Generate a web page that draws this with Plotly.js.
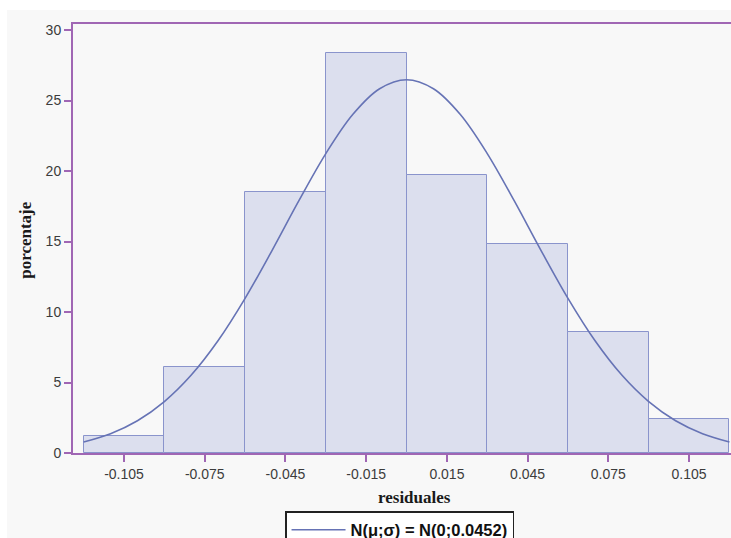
<!DOCTYPE html>
<html>
<head>
<meta charset="utf-8">
<script src="https://cdn.plot.ly/plotly-3.0.1.min.js"></script>
<style>
  html, body { margin: 0; padding: 0; background: #ffffff; overflow: hidden; width: 731px; height: 538px; }
  #chart { position: absolute; left: 7px; top: 10px; width: 748px; height: 528px; }
</style>
</head>
<body>
<div id="chart"></div>
<script>
// Histogram bins (centres) and percentages
const binCenters = [-0.105, -0.075, -0.045, -0.015, 0.015, 0.045, 0.075, 0.105];
const percentages = [1.2, 6.1, 18.5, 28.4, 19.7, 14.8, 8.6, 2.4];

// Fitted normal curve points
const curveX = [-0.12, -0.11, -0.10, -0.09, -0.08, -0.07, -0.06, -0.05, -0.04, -0.03, -0.02, -0.01, 0.00,
                0.01, 0.02, 0.03, 0.04, 0.05, 0.06, 0.07, 0.08, 0.09, 0.10, 0.11, 0.12];
const curveY = [0.78, 1.37, 2.29, 3.65, 5.53, 7.98, 10.97, 14.36, 17.90, 21.24, 24.01, 25.84, 26.48,
                25.84, 24.01, 21.24, 17.90, 14.36, 10.97, 7.98, 5.53, 3.65, 2.29, 1.37, 0.78];

// Axis ticks
const xTickVals = [-0.105, -0.075, -0.045, -0.015, 0.015, 0.045, 0.075, 0.105];
const xTickText = ['-0.105', '-0.075', '-0.045', '-0.015', '0.015', '0.045', '0.075', '0.105'];
const yTickVals = [0, 5, 10, 15, 20, 25, 30];

const legendName = 'N(\u03bc;\u03c3) = N(0;0.0452)';
const xTitle = 'residuales';
const yTitle = 'porcentaje';

const axisColor = '#a066b4';
const tickFont = { family: 'Liberation Sans, Arial, sans-serif', size: 14, color: '#3c3c3c' };
const titleFont = { family: 'Liberation Serif, Times New Roman, serif', size: 17, color: '#1a1a1a', weight: 'bold' };

const traces = [
  {
    type: 'bar',
    x: binCenters,
    y: percentages,
    width: 0.03,
    marker: { color: '#dcdfee', line: { color: '#8a94cc', width: 1 } },
    showlegend: false,
    hoverinfo: 'x+y'
  },
  {
    type: 'scatter',
    mode: 'lines',
    x: curveX,
    y: curveY,
    name: legendName,
    line: { color: '#6673b5', width: 1.6, shape: 'spline' },
    showlegend: true
  }
];

const layout = {
  width: 748,
  height: 528,
  margin: { l: 66, r: 0, t: 14, b: 85, autoexpand: false },
  paper_bgcolor: '#f8f8f8',
  plot_bgcolor: '#f8f8f8',
  bargap: 0,
  xaxis: {
    range: [-0.12395, 0.1295],
    tickvals: xTickVals,
    ticktext: xTickText,
    ticks: 'outside',
    ticklen: 7,
    tickwidth: 2,
    tickcolor: axisColor,
    showline: true,
    linecolor: axisColor,
    linewidth: 2,
    mirror: true,
    showgrid: false,
    zeroline: false,
    tickfont: tickFont
  },
  yaxis: {
    range: [0, 30.43],
    tickvals: yTickVals,
    ticks: 'outside',
    ticklen: 7,
    tickwidth: 2,
    tickcolor: axisColor,
    showline: true,
    linecolor: axisColor,
    linewidth: 2,
    mirror: true,
    showgrid: false,
    zeroline: false,
    tickfont: tickFont
  },
  showlegend: true,
  legend: {
    x: 0.3109,
    y: -0.1352,
    xanchor: 'left',
    yanchor: 'top',
    bgcolor: '#ffffff',
    bordercolor: '#222222',
    borderwidth: 1.5,
    itemwidth: 54,
    font: { family: 'Liberation Sans, Arial, sans-serif', size: 16.5, color: '#111111', weight: 'bold' }
  },
  annotations: [
    {
      text: xTitle,
      xref: 'paper', yref: 'paper',
      x: 0.501, y: -0.103,
      xanchor: 'center', yanchor: 'middle',
      showarrow: false,
      font: titleFont
    },
    {
      text: yTitle,
      xref: 'paper', yref: 'paper',
      x: -0.0689, y: 0.497,
      xanchor: 'center', yanchor: 'middle',
      textangle: -90,
      showarrow: false,
      font: titleFont
    }
  ]
};

Plotly.newPlot('chart', traces, layout, { displayModeBar: false, responsive: false });
</script>
</body>
</html>
